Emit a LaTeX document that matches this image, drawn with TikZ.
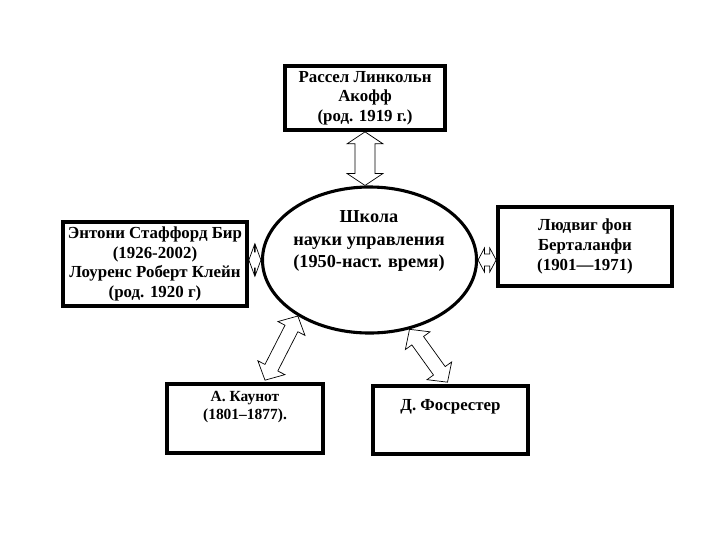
\documentclass[tikz,border=0pt]{standalone}
\usepackage{fontspec}
\setmainfont{Liberation Serif}
\usepackage{tikz}
\usetikzlibrary{positioning, calc, shapes.geometric}

% outlined two-headed block arrow: from, to, head length, head half-width, shaft half-width
\newcommand{\dblarrow}[5]{%
  \coordinate (ta) at ($#1!#3!#2$);
  \coordinate (tb) at ($#2!#3!#1$);
  \draw[blockarrow] #1 -- ($(ta)!#4!90:#2$) -- ($(ta)!#5!90:#2$) -- ($(tb)!#5!-90:#1$) -- ($(tb)!#4!-90:#1$)
    -- #2 -- ($(tb)!#4!90:#1$) -- ($(tb)!#5!90:#1$) -- ($(ta)!#5!-90:#2$) -- ($(ta)!#4!-90:#2$) -- cycle;
}

\begin{document}
\begin{tikzpicture}[x=0.025cm, y=-0.025cm,
    every node/.style={align=center},
    personbox/.style={draw, line width=2.6pt, fill=white, inner sep=2pt},
    boxtext/.style={font=\fontsize{12}{14}\selectfont\bfseries},
    blockarrow/.style={draw=black, line width=0.5pt, fill=white, line join=miter}]
    \useasboundingbox (0,0) rectangle (720,540);

    % School (centre)
    \node[ellipse, draw, line width=2.2pt, minimum width=5.35cm, minimum height=3.65cm, inner sep=0pt] (school) at (369.5,260) {};
    \node[font=\fontsize{13}{16}\selectfont\bfseries] (schooltxt) at (369,241) {Школа\\науки управления\\(1950-наст. время)};

    % Persons
    \node[personbox, boxtext, minimum width=4.0cm, minimum height=1.6cm] (akoff) at (365,98) {Рассел Линкольн\\Акофф\\(род. 1919 г.)};
    \node[personbox, boxtext, minimum width=4.6cm, minimum height=2.1cm] (beer) at (155,264) {Энтони Стаффорд Бир\\(1926-2002)\\Лоуренс Роберт Клейн\\(род. 1920 г)};
    \node[personbox, boxtext, minimum width=4.35cm, minimum height=1.975cm] (bertalanffy) at (585,246.5) {Людвиг фон\\Берталанфи\\(1901—1971)};
    \node[personbox, minimum width=3.9cm, minimum height=1.725cm] (kaunot) at (245,418.5) {};
    \node[font=\fontsize{11}{12.5}\selectfont\bfseries, below=3pt of kaunot.north] (kaunottxt) {А. Каунот\\(1801–1877).};
    \node[personbox, minimum width=3.875cm, minimum height=1.7cm] (forrester) at (450.5,420) {};
    \node[boxtext, below=7pt of forrester.north] (forrestertxt) {Д. Фосрестер};

    % Links
    \coordinate (schooltop) at (akoff.south |- school.north);
    \coordinate (kaunottop) at ($(kaunot.north)+(20,-2)$);
    \coordinate (forrestertop) at ($(forrester.north)+(-3,-2)$);
    \dblarrow{(akoff.south)}{(schooltop)}{0.3cm}{0.45cm}{0.25cm}
    \dblarrow{(beer.east |- school.west)}{(school.west)}{0.14cm}{0.38cm}{0.2cm}
    \dblarrow{(school.east)}{(bertalanffy.west |- school.east)}{0.16cm}{0.3cm}{0.15cm}
    \dblarrow{(school.218)}{(kaunottop)}{0.35cm}{0.38cm}{0.18cm}
    \dblarrow{(school.300)}{(forrestertop)}{0.35cm}{0.38cm}{0.18cm}
\end{tikzpicture}
\end{document}
